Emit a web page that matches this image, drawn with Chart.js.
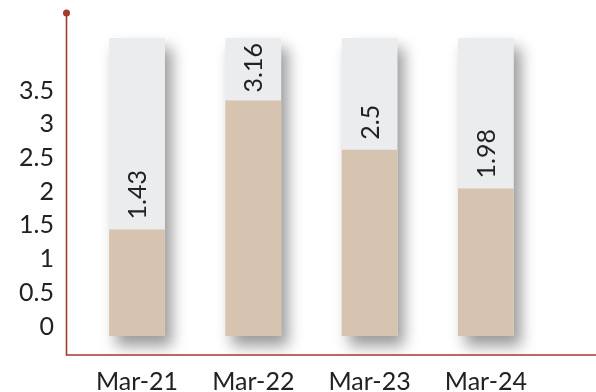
<!DOCTYPE html>
<html>
<head>
<meta charset="utf-8">
<script src="https://cdn.jsdelivr.net/npm/chart.js@4/dist/chart.umd.min.js"></script>
<style>
  html, body { margin: 0; padding: 0; background: #fff; }
  #wrap { width: 596px; height: 392px; position: relative; }
</style>
</head>
<body>
<div id="wrap"><canvas id="chart"></canvas></div>
<script>
// data
const categories = ['Mar-21', 'Mar-22', 'Mar-23', 'Mar-24'];
const values = [1.43, 3.16, 2.5, 1.98];
const trackValues = [4, 4, 4, 4];
const yTickValues = [0, 0.5, 1, 1.5, 2, 2.5, 3, 3.5];
const yTickLabels = ['0', '0.5', '1', '1.5', '2', '2.5', '3', '3.5'];

const axisColor = '#a23a2f';
const textColor = '#222222';

Chart.defaults.font.family = 'Lato';
Chart.defaults.font.size = 25;
Chart.defaults.color = textColor;

// shadow behind the grey tracks
const shadowPlugin = {
    id: 'trackShadow',
    beforeDatasetDraw(chart, args) {
        if (args.index !== 1) return;
        const ctx = chart.ctx;
        ctx.save();
        ctx.shadowColor = 'rgba(0,0,0,0.4)';
        ctx.shadowBlur = 14;
        ctx.shadowOffsetX = 7;
        ctx.shadowOffsetY = 10;
    },
    afterDatasetDraw(chart, args) {
        if (args.index !== 1) return;
        chart.ctx.restore();
    }
};

// axis lines with the dot on top, and the rotated value labels
const decoPlugin = {
    id: 'deco',
    afterDatasetsDraw(chart) {
        const ctx = chart.ctx;
        const area = chart.chartArea;
        const x0 = Math.round(area.left) - 12.5;

        ctx.save();
        ctx.strokeStyle = axisColor;
        ctx.lineWidth = 1.6;
        ctx.beginPath();
        ctx.moveTo(x0, area.top);
        ctx.lineTo(x0, area.bottom);
        ctx.lineTo(chart.width, area.bottom);
        ctx.stroke();
        ctx.fillStyle = axisColor;
        ctx.beginPath();
        ctx.arc(x0, area.top, 3.5, 0, Math.PI * 2);
        ctx.fill();

        const meta = chart.getDatasetMeta(0);
        const track = chart.getDatasetMeta(1);
        ctx.font = '25px Lato';
        ctx.fillStyle = textColor;
        ctx.textBaseline = 'middle';
        ctx.textAlign = 'left';
        meta.data.forEach((bar, i) => {
            const text = String(values[i]);
            const w = ctx.measureText(text).width;
            const limit = track.data[i].y + 5 + w;
            const start = Math.max(bar.y - 10, limit);
            ctx.save();
            ctx.translate(bar.x, start);
            ctx.rotate(-Math.PI / 2);
            ctx.fillText(text, 0, 1);
            ctx.restore();
        });
        ctx.restore();
    }
};

new Chart(document.getElementById('chart'), {
    type: 'bar',
    data: {
        labels: categories,
        datasets: [{
            data: values,
            backgroundColor: '#d6c4b0',
            yAxisID: 'yBar',
            grouped: false,
            categoryPercentage: 1,
            barPercentage: 0.48,
        }, {
            data: trackValues,
            backgroundColor: '#ebecee',
            yAxisID: 'yBar',
            grouped: false,
            categoryPercentage: 1,
            barPercentage: 0.48,
        }]
    },
    options: {
        responsive: true,
        maintainAspectRatio: false,
        animation: false,
        layout: { padding: { left: 19, right: 52, top: 13, bottom: 0 } },
        plugins: {
            legend: { display: false },
            tooltip: { enabled: false },
        },
        scales: {
            x: {
                grid: { display: false, drawTicks: false },
                border: { display: false },
                afterFit(axis) {
                    axis.paddingLeft = 0;
                    axis.paddingRight = 0;
                    axis.height -= 17;
                },
                ticks: { padding: 12, color: textColor },
            },
            yBar: {
                display: false,
                min: -0.255,
                max: 4.336,
            },
            y: {
                position: 'left',
                min: -0.423,
                max: 4.649,
                grid: { display: false, drawTicks: false },
                border: { display: false },
                afterBuildTicks(axis) {
                    axis.ticks = yTickValues.map(v => ({ value: v }));
                },
                afterFit(axis) {
                    // the tick padding is only wanted on the inner side
                    axis.paddingTop = 0;
                    axis.paddingBottom = 0;
                    axis.width -= 25;
                },
                ticks: {
                    padding: 25,
                    color: textColor,
                    callback: (v, i) => yTickLabels[i],
                },
            },
        },
    },
    plugins: [shadowPlugin, decoPlugin],
});
</script>
</body>
</html>
